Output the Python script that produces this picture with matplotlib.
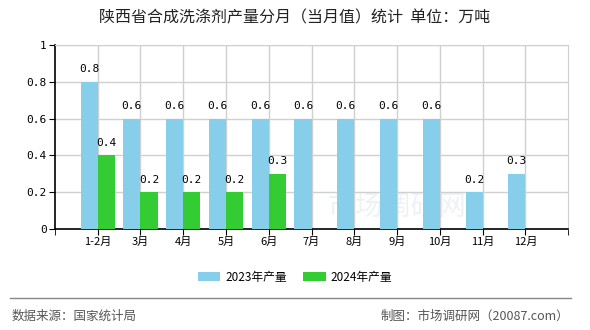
import matplotlib.pyplot as plt
import numpy as np

plt.rcParams['font.family'] = ['Noto Sans CJK SC', 'DejaVu Sans']

months = ["1-2月", "3月", "4月", "5月", "6月", "7月", "8月", "9月", "10月", "11月", "12月"]
output_2023 = [0.8, 0.6, 0.6, 0.6, 0.6, 0.6, 0.6, 0.6, 0.6, 0.2, 0.3]
output_2024 = [0.4, 0.2, 0.2, 0.2, 0.3]

color_2023 = '#87CEEB'
color_2024 = '#33CC33'

fig = plt.figure(figsize=(5.9, 3.3), dpi=100)
ax = fig.add_axes([0.093, 0.306, 0.870, 0.558])

x = np.arange(len(months))
w = 0.4
bars23 = ax.bar(x - w / 2, output_2023, width=w, color=color_2023, label="2023年产量", zorder=3)
x24 = np.arange(len(output_2024))
bars24 = ax.bar(x24 + w / 2, output_2024, width=w, color=color_2024, label="2024年产量", zorder=3)

# value labels above each bar
for bars, vals in ((bars23, output_2023), (bars24, output_2024)):
    for b, v in zip(bars, vals):
        ax.text(b.get_x() + b.get_width() / 2, v + 0.04, f"{v:g}",
                ha='center', va='bottom', fontsize=8, family='DejaVu Sans Mono', zorder=4)

ax.set_xlim(-1, len(months))
ax.set_ylim(0, 1)
ax.set_xticks(x)
ax.set_xticklabels(months, fontsize=8)
ax.set_yticks([0, 0.2, 0.4, 0.6, 0.8, 1])
ax.set_yticklabels(["0", "0.2", "0.4", "0.6", "0.8", "1"], fontsize=8, family='DejaVu Sans Mono')
ax.set_xticks(np.arange(-1, len(months) + 1), minor=True)
ax.tick_params(axis='x', which='minor', length=4, color='black')
ax.tick_params(axis='both', which='major', length=4, color='black', pad=2)

ax.grid(True, color='#d0d0d0', linewidth=1, zorder=0)
for side in ('top', 'right'):
    ax.spines[side].set_color('#d0d0d0')
for side in ('left', 'bottom'):
    ax.spines[side].set_color('black')
    ax.spines[side].set_linewidth(1.2)

# faint watermark
ax.text(7.0, 0.12, "市场调研网", fontsize=20, color='#eef2f4', ha='center', va='center', zorder=1)

fig.text(0.5, 0.945, "陕西省合成洗涤剂产量分月（当月值）统计  单位：万吨",
         ha='center', va='center', fontsize=11.5, color='#222222')

fig.legend(handles=[bars23, bars24], loc='center', bbox_to_anchor=(0.5, 0.16), ncol=2,
           frameon=False, fontsize=8.5, handlelength=1.9, handleheight=0.75,
           columnspacing=1.4, handletextpad=0.4)

fig.add_artist(plt.Line2D([0.017, 0.968], [0.097, 0.097], color='#888888', linewidth=1,
                          transform=fig.transFigure))
fig.text(0.02, 0.042, "数据来源：国家统计局", ha='left', va='center', fontsize=9, color='#555555')
fig.text(0.965, 0.042, "制图：市场调研网（20087.com）", ha='right', va='center', fontsize=9, color='#555555')

fig.savefig("out.png", dpi=100)
